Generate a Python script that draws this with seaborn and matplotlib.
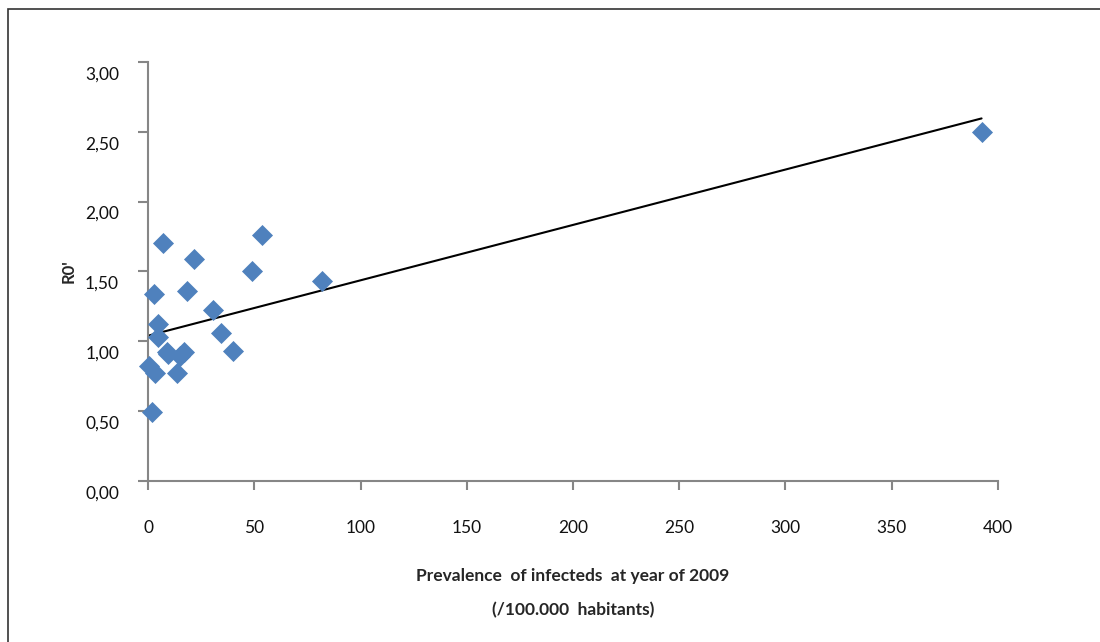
import numpy as np
import pandas as pd
import matplotlib
matplotlib.use('Agg')
import matplotlib.pyplot as plt
import seaborn as sns
from matplotlib.transforms import ScaledTranslation
from matplotlib.patches import Rectangle

# prevalence per 100.000 habitants (2009) and R0'
prevalence = [7.1, 53.4, 21.7, 49.0, 81.7, 2.7, 18.1, 30.6, 4.4, 34.2, 4.7,
              8.7, 9.1, 14.9, 16.8, 39.7, 0.5, 3.2, 13.7, 1.6, 392.4]
r0 = [1.70, 1.76, 1.59, 1.50, 1.43, 1.34, 1.36, 1.22, 1.12, 1.06, 1.03,
      0.92, 0.91, 0.89, 0.92, 0.93, 0.82, 0.77, 0.77, 0.49, 2.50]
yticks = [0, 0.5, 1.0, 1.5, 2.0, 2.5, 3.0]
xticks = [0, 50, 100, 150, 200, 250, 300, 350, 400]

df = pd.DataFrame({'prevalence': prevalence, 'r0': r0})

sns.set_style('white')
plt.rcParams['font.family'] = ['Lato', 'DejaVu Sans']

fig = plt.figure(figsize=(11, 6.42), dpi=100)
ax = fig.add_axes([0.1348, 0.2513, 0.7722, 0.6521])

sns.regplot(data=df, x='prevalence', y='r0', ci=None, scatter=False,
            truncate=True, color='black', line_kws={'lw': 1.5}, ax=ax)
sns.scatterplot(data=df, x='prevalence', y='r0', marker='D', s=115,
                color='#4F81BD', linewidth=0, ax=ax, clip_on=False, zorder=3)

ax.set_xlim(0, 400)
ax.set_ylim(0, 3)
ax.set_xticks(xticks)
ax.set_yticks(yticks)
ax.set_xticklabels([str(t) for t in xticks])
ax.set_yticklabels([f'{t:.2f}'.replace('.', ',') for t in yticks])

for s in ['top', 'right']:
    ax.spines[s].set_visible(False)
for s in ['left', 'bottom']:
    ax.spines[s].set_color('#868686')
    ax.spines[s].set_linewidth(1.5)

ax.tick_params(axis='y', direction='out', length=7, width=1.5, color='#868686',
               pad=14, labelsize=12.5, labelcolor='#111111', left=True)
ax.tick_params(axis='x', direction='out', length=6.5, width=1.5, color='#868686',
               pad=22, labelsize=12.5, labelcolor='#111111', bottom=True)
for lab in ax.get_yticklabels():
    lab.set_transform(lab.get_transform() + ScaledTranslation(0, -0.11, fig.dpi_scale_trans))

ax.set_ylabel("R0'", fontsize=12, fontweight='bold', labelpad=6)
ax.set_xlabel('Prevalence  of infecteds  at year of 2009\n(/100.000  habitants)',
              fontsize=12.5, fontweight='bold', linespacing=2.3, labelpad=23)

# outer chart border (top and left only visible)
fig.patches.append(Rectangle((8 / 1100, -0.1), 1.2, 1 - 9 / 642 + 0.1,
                             transform=fig.transFigure, fill=False,
                             edgecolor='#333333', lw=1.2))

fig.savefig('out.png', dpi=100)
